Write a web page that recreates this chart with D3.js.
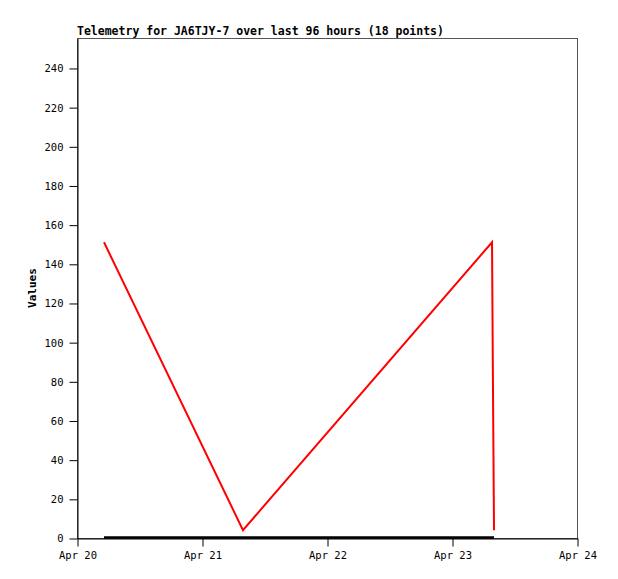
<!DOCTYPE html>
<html>
<head>
<meta charset="utf-8">
<script src="https://cdn.jsdelivr.net/npm/d3@7"></script>
<style>
body { margin: 0; background: #fff; }
text { font-family: "DejaVu Sans Mono", "Liberation Mono", monospace; }
</style>
</head>
<body>
<svg id="chart"></svg>
<script>
// telemetry values
var redTimes = ["2023-04-20T05:11", "2023-04-21T07:52", "2023-04-23T07:41", "2023-04-23T07:52", "2023-04-23T08:04"];
var redValues = [151, 4, 151, 77, 4];
var blackTimes = ["2023-04-20T05:11", "2023-04-23T08:04"];
var blackValues = [0, 0];
var yTicks = [0, 20, 40, 60, 80, 100, 120, 140, 160, 180, 200, 220, 240];
var xTicks = ["2023-04-20", "2023-04-21", "2023-04-22", "2023-04-23", "2023-04-24"];

var margin = {top: 38, right: 41, bottom: 41, left: 77},
    width = 618 - margin.left - margin.right,
    height = 579 - margin.top - margin.bottom;

var parse = d3.timeParse("%Y-%m-%dT%H:%M"),
    parseDay = d3.timeParse("%Y-%m-%d");

var x = d3.scaleTime()
    .domain([parseDay(xTicks[0]), parseDay(xTicks[xTicks.length - 1])])
    .range([0, width]);
var y = d3.scaleLinear()
    .domain([0, 255.3])
    .range([height, 0]);

var svg = d3.select("#chart")
    .attr("width", 618)
    .attr("height", 579);

var g = svg.append("g")
    .attr("transform", "translate(" + margin.left + "," + margin.top + ")");

// frame
g.append("rect")
    .attr("x", 0.5).attr("y", 0.5)
    .attr("width", width).attr("height", height)
    .attr("fill", "none")
    .attr("stroke", "#555");

//axes
var yAxis = g.append("g")
    .attr("transform", "translate(0.5,0.5)")
    .call(d3.axisLeft(y).tickValues(yTicks).tickSize(8).tickSizeOuter(0).tickPadding(6));
var xAxis = g.append("g")
    .attr("transform", "translate(0.5," + (height + 0.5) + ")")
    .call(d3.axisBottom(x).tickValues(xTicks.map(parseDay)).tickSize(8).tickSizeOuter(0)
        .tickPadding(5).tickFormat(d3.timeFormat("%b %d")));

[yAxis, xAxis].forEach(function(a) {
    a.select(".domain").attr("stroke", "#000");
    a.selectAll(".tick line").attr("stroke", "#000");
    a.selectAll("text").attr("font-size", 10.5).attr("fill", "#000")
        .attr("font-family", "DejaVu Sans Mono, monospace");
});
xAxis.selectAll("text").attr("dy", "0.75em");

var line = d3.line()
    .x(function(d) { return x(parse(d[0])); })
    .y(function(d) { return y(d[1]); });

g.append("path")
    .datum(d3.zip(blackTimes, blackValues))
    .attr("d", line)
    .attr("transform", "translate(0,-0.5)")
    .attr("fill", "none")
    .attr("stroke", "#000")
    .attr("stroke-width", 2.5);

g.append("path")
    .datum(d3.zip(redTimes, redValues))
    .attr("d", line)
    .attr("fill", "none")
    .attr("stroke", "#ff0000")
    .attr("stroke-width", 2);

//title
svg.append("text")
    .text("Telemetry for JA6TJY-7 over last 96 hours (18 points)")
    .attr("x", margin.left)
    .attr("y", 35)
    .attr("font-size", 11.5)
    .attr("font-weight", "bold")
    .attr("fill", "#000");

svg.append("text")
    .text("Values")
    .attr("transform", "translate(36," + (margin.top + height / 2) + ") rotate(-90)")
    .attr("text-anchor", "middle")
    .attr("font-size", 11)
    .attr("font-weight", "bold")
    .attr("fill", "#000");
</script>
</body>
</html>
